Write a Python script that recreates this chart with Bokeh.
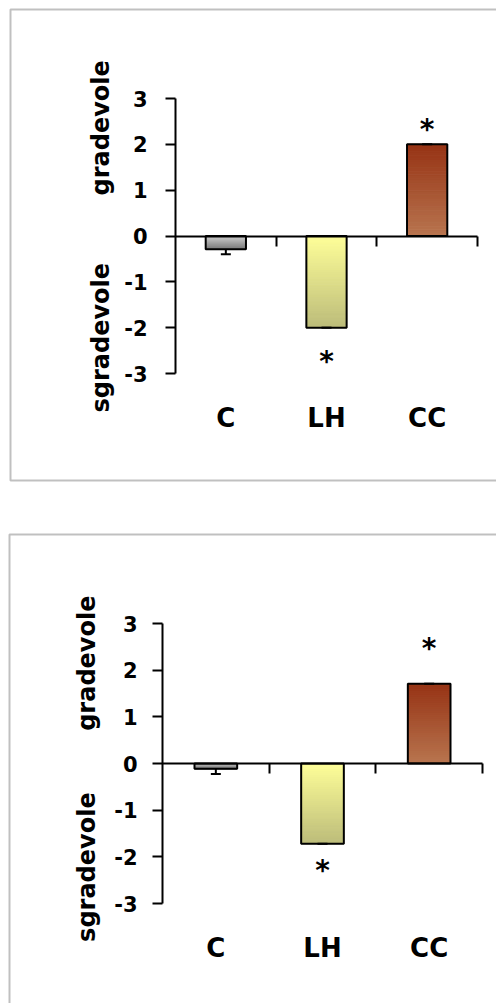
import math
from bokeh.plotting import figure
from bokeh.layouts import column
from bokeh.models import Range1d, FixedTicker, Label, BoxAnnotation, LinearAxis
from bokeh.core.properties import value
from bokeh.embed import file_html
from bokeh.resources import INLINE

# ---------------- data ----------------
categories = ["C", "LH", "CC"]
y_ticks = [-3, -2, -1, 0, 1, 2, 3]
y_tick_labels = ["-3", "-2", "-1", "0", "1", "2", "3"]
title_up = "gradevole"
title_down = "sgradevole"

values_1 = [-0.29, -2.00, 2.00]
errors_1 = [0.11, 0.0, 0.0]
stars_1 = [None, -2.68, 2.39]

values_2 = [-0.115, -1.72, 1.71]
errors_2 = [0.11, 0.0, 0.0]
stars_2 = [None, -2.22, 2.53]

bar_top_colors = ["#d4d4d4", "#ffff99", "#963214"]
bar_bottom_colors = ["#7c7c7c", "#bcbc7a", "#b8754f"]

FONT = "DejaVu Sans"


def hex2rgb(h):
    h = h.lstrip("#")
    return tuple(int(h[i:i + 2], 16) for i in (0, 2, 4))


def mix(c1, c2, t):
    a, b = hex2rgb(c1), hex2rgb(c2)
    return "#%02x%02x%02x" % tuple(int(round(a[j] + (b[j] - a[j]) * t)) for j in range(3))


def make_panel(values, errors, stars, lay):
    W, H = lay["W"], lay["H"]
    ncat = len(categories)
    pxx = (lay["xr"] - lay["xl"]) / ncat          # pixels per category
    pxy = (lay["ybot"] - lay["ytop"]) / 6.0        # pixels per unit
    x_range = Range1d(-lay["xl"] / pxx, ncat + (W - lay["xr"]) / pxx)
    y_range = Range1d(-3 - (H - lay["ybot"]) / pxy, 3 + lay["ytop"] / pxy)

    p = figure(width=W, height=H, output_backend="svg", toolbar_location=None,
               x_range=x_range, y_range=y_range,
               x_axis_location=None, y_axis_location=None,
               background_fill_color="white", border_fill_color="white")
    p.min_border = 0
    p.min_border_left = 0
    p.min_border_right = 0
    p.min_border_top = 0
    p.min_border_bottom = 0
    p.outline_line_color = None
    p.grid.visible = False

    centers = [i + 0.5 for i in range(ncat)]
    bw = 0.4

    # gradient-filled bars
    n = 40
    L, R, T, B, C = [], [], [], [], []
    for i, v in enumerate(values):
        hi, lo = max(v, 0), min(v, 0)
        for k in range(n):
            T.append(hi - (hi - lo) * k / n)
            B.append(hi - (hi - lo) * (k + 1) / n)
            L.append(centers[i] - bw / 2)
            R.append(centers[i] + bw / 2)
            C.append(mix(bar_top_colors[i], bar_bottom_colors[i], (k + 0.5) / n))
    p.quad(left=L, right=R, top=T, bottom=B, fill_color=C, line_color=C, line_width=1)
    p.vbar(x=centers, top=values, width=bw, fill_color=None,
           line_color="black", line_width=2)

    # error bars
    ends = [v + (e if v >= 0 else -e) for v, e in zip(values, errors)]
    cap = 5.0 / pxx
    p.segment(x0=centers, y0=values, x1=centers, y1=ends, line_color="black", line_width=2)
    p.segment(x0=[c - cap for c in centers], y0=ends, x1=[c + cap for c in centers], y1=ends,
              line_color="black", line_width=2)

    # y axis at x = 0
    ya = LinearAxis(fixed_location=0, bounds=(-3, 3), ticker=FixedTicker(ticks=y_ticks))
    ya.major_label_overrides = {t: s for t, s in zip(y_ticks, y_tick_labels)}
    ya.axis_line_width = 2
    ya.axis_line_color = "black"
    ya.major_tick_line_width = 2
    ya.major_tick_line_color = "black"
    ya.major_tick_in = 0
    ya.major_tick_out = 10
    ya.minor_tick_line_color = None
    ya.major_label_text_font = FONT
    ya.major_label_text_font_style = "bold"
    ya.major_label_text_font_size = "21px"
    ya.major_label_text_color = "black"
    ya.major_label_standoff = lay["ystand"]
    p.add_layout(ya, "left")

    # zero line with ticks at category boundaries
    bnd = list(range(1, ncat + 1))
    za = LinearAxis(fixed_location=0, bounds=(0, ncat), ticker=FixedTicker(ticks=bnd))
    za.major_label_overrides = {b: "" for b in bnd}
    za.axis_line_width = 2
    za.axis_line_color = "black"
    za.major_tick_line_width = 2
    za.major_tick_line_color = "black"
    za.major_tick_in = 0
    za.major_tick_out = 10
    za.minor_tick_line_color = None
    p.add_layout(za, "below")

    # category labels below the plot
    xa = LinearAxis(fixed_location=-3, ticker=FixedTicker(ticks=centers))
    xa.major_label_overrides = {c: s for c, s in zip(centers, categories)}
    xa.axis_line_color = None
    xa.major_tick_line_color = None
    xa.minor_tick_line_color = None
    xa.major_label_text_font = FONT
    xa.major_label_text_font_style = "bold"
    xa.major_label_text_font_size = "26px"
    xa.major_label_text_color = "black"
    xa.major_label_standoff = lay["xstand"]
    p.add_layout(xa, "below")

    # significance stars
    sx = [centers[i] for i, s in enumerate(stars) if s is not None]
    sy = [s for s in stars if s is not None]
    p.text(x=sx, y=sy, text=["*"] * len(sx), text_font=value(FONT),
           text_font_style="bold", text_font_size="28px", text_color="black",
           text_align="center", text_baseline="middle", y_offset=3)

    # y titles
    for txt, yv in ((title_up, lay["t_up"]), (title_down, lay["t_down"])):
        p.add_layout(Label(x=lay["tx"], y=yv, x_units="screen", y_units="data",
                           text=txt, angle=math.pi / 2, text_align="center",
                           text_baseline="middle", text_font=FONT,
                           text_font_style="bold", text_font_size="24px",
                           text_color="black"))

    # panel border (screen units: x from left, y up from bottom)
    p.add_layout(BoxAnnotation(left=lay["bl"], right=W + 200,
                               top=H - lay["bt"], bottom=H - lay["bb"],
                               left_units="screen", right_units="screen",
                               top_units="screen", bottom_units="screen",
                               fill_color=None, fill_alpha=0,
                               line_color="#303030", line_width=2, level="annotation"))
    return p


lay1 = dict(W=496, H=503, xl=175, xr=477, ytop=98, ybot=373,
            ystand=18, xstand=23, tx=100, t_up=2.36, t_down=-2.22,
            bl=10, bt=9, bb=480)
lay2 = dict(W=496, H=500, xl=162, xr=482, ytop=120, ybot=400,
            ystand=15, xstand=23, tx=86, t_up=2.15, t_down=-2.22,
            bl=9, bt=31, bb=700)

p1 = make_panel(values_1, errors_1, stars_1, lay1)
p2 = make_panel(values_2, errors_2, stars_2, lay2)
p = column(p1, p2)

open("out.html", "w").write(file_html(p, INLINE))
